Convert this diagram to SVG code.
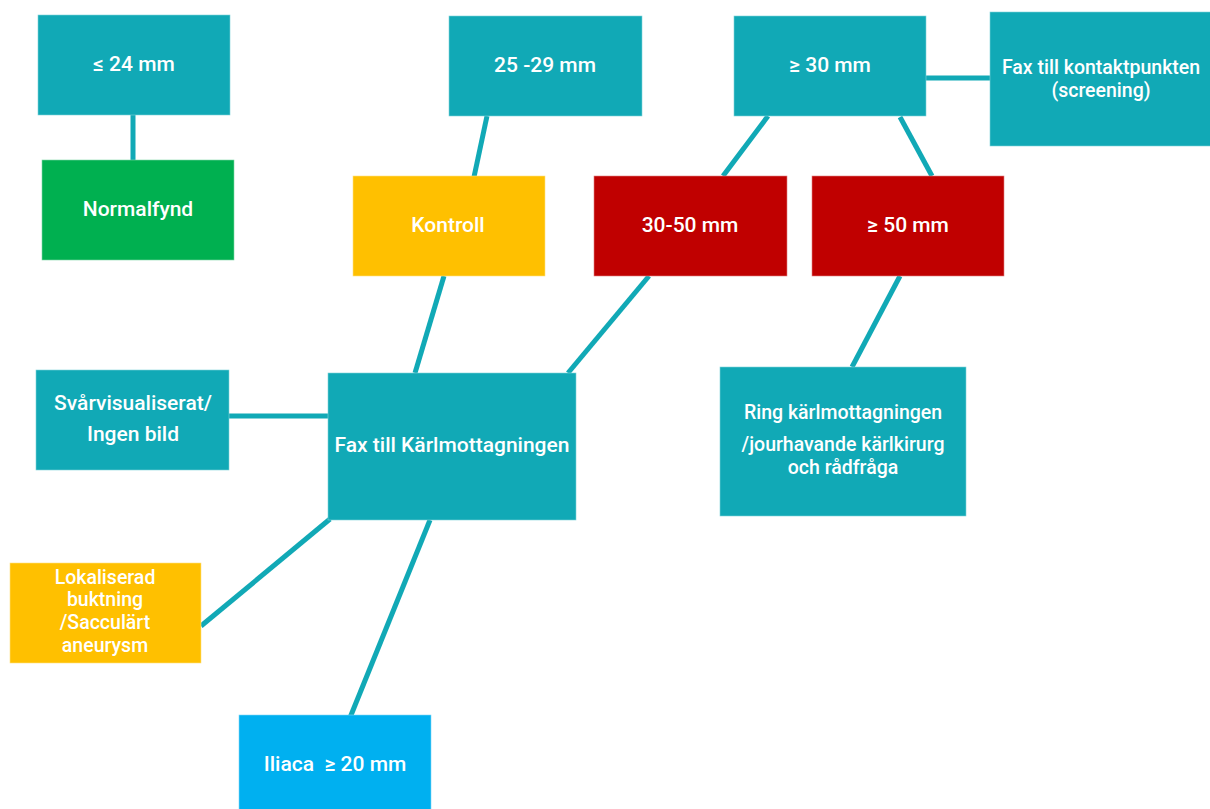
<svg xmlns="http://www.w3.org/2000/svg" width="1210" height="809" viewBox="0 0 1210 809">
<style>
.teal{fill:#11A9B6;stroke:#7fd3da;stroke-width:0.6}
.green{fill:#00B050;stroke:#7fd8a7;stroke-width:0.6}
.yellow{fill:#FFC000;stroke:#ffe080;stroke-width:0.6}
.red{fill:#C00000;stroke:#e08080;stroke-width:0.6}
.blue{fill:#00B0F0;stroke:#80d8f8;stroke-width:0.6}
text{font-family:Roboto,"Liberation Sans",sans-serif;font-weight:500;font-size:19.5px;fill:#fff;text-anchor:middle;dominant-baseline:central;white-space:pre}
text.big{font-size:21px}
.conn line{stroke:#11A9B6;stroke-width:5;stroke-linecap:butt}
</style>
<rect width="1210" height="809" fill="#fff"/>
<g id="connectors" class="conn">
<line x1="133" y1="115" x2="133" y2="162"/>
<line x1="487" y1="116" x2="474" y2="177"/>
<line x1="768" y1="116" x2="723" y2="176"/>
<line x1="900" y1="117" x2="932" y2="176"/>
<line x1="926" y1="78" x2="990" y2="78"/>
<line x1="444" y1="276" x2="415" y2="373"/>
<line x1="649" y1="276" x2="568" y2="373"/>
<line x1="900" y1="276" x2="852" y2="367"/>
<line x1="229" y1="416" x2="328" y2="416"/>
<line x1="330" y1="519" x2="201" y2="626"/>
<line x1="430" y1="520" x2="345" y2="730"/>
</g>
<g id="n1"><rect class="teal" x="38" y="15" width="192" height="100"/><text class="big" x="134" y="64">≤ 24 mm</text></g>
<g id="n2"><rect class="green" x="42" y="160" width="192" height="100"/><text class="big" x="138" y="209">Normalfynd</text></g>
<g id="n3"><rect class="teal" x="449" y="16" width="193" height="100"/><text class="big" x="545" y="65">25 -29 mm</text></g>
<g id="n4"><rect class="teal" x="734" y="16" width="192" height="100"/><text class="big" x="830" y="65">≥ 30 mm</text></g>
<g id="n5"><rect class="teal" x="990" y="12" width="222" height="134"/><text x="1101" y="67">Fax till kontaktpunkten</text><text x="1101" y="90">(screening)</text></g>
<g id="n6"><rect class="yellow" x="353" y="176" width="192" height="100"/><text class="big" x="448" y="225">Kontroll</text></g>
<g id="n7"><rect class="red" x="594" y="176" width="193" height="100"/><text class="big" x="690" y="225">30-50 mm</text></g>
<g id="n8"><rect class="red" x="812" y="176" width="192" height="100"/><text class="big" x="908" y="225">≥ 50 mm</text></g>
<g id="n9"><rect class="teal" x="36" y="370" width="193" height="100"/><text class="big" x="133" y="403">Svårvisualiserat/</text><text class="big" x="133" y="434">Ingen bild</text></g>
<g id="n10"><rect class="teal" x="328" y="373" width="248" height="147"/><text class="big" x="452" y="445">Fax till Kärlmottagningen</text></g>
<g id="n11"><rect class="teal" x="720" y="367" width="246" height="149"/><text x="843" y="412">Ring kärlmottagningen</text><text x="843" y="444">/jourhavande kärlkirurg</text><text x="843" y="467">och rådfråga</text></g>
<g id="n12"><rect class="yellow" x="10" y="563" width="191" height="100"/><text x="105" y="577">Lokaliserad</text><text x="105" y="599.5">buktning</text><text x="105" y="622.5">/Sacculärt</text><text x="105" y="645.5">aneurysm</text></g>
<g id="n13"><rect class="blue" x="239" y="715" width="192" height="96"/><text class="big" x="335" y="764">Iliaca  ≥ 20 mm</text></g>
</svg>
